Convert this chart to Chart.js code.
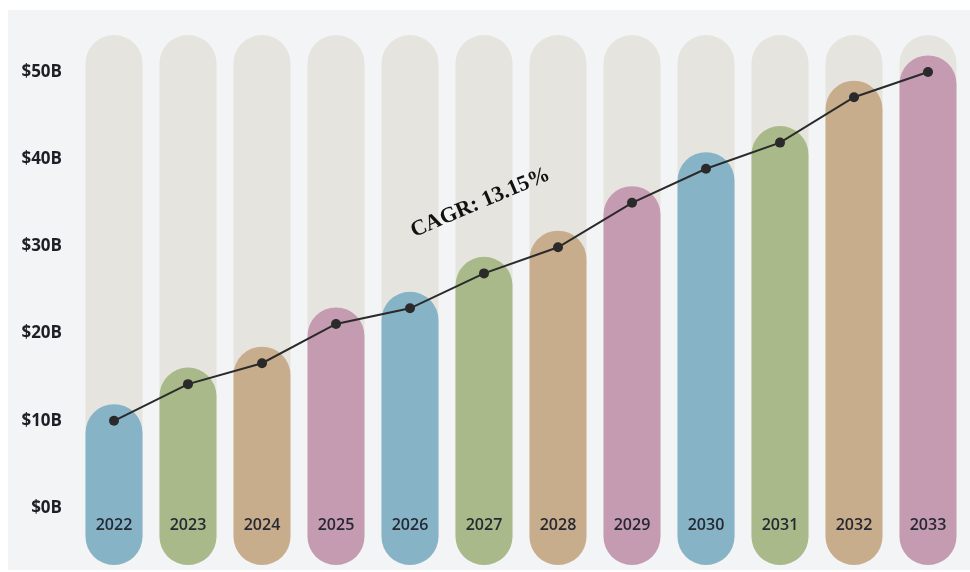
<!DOCTYPE html>
<html>
<head>
<meta charset="utf-8">
<script src="https://cdn.jsdelivr.net/npm/chart.js@4/dist/chart.umd.min.js"></script>
<style>
  html, body { margin: 0; padding: 0; background: #ffffff; }
  #wrap { width: 970px; height: 572px; }
</style>
</head>
<body>
<div id="wrap"><canvas id="myChart" width="970" height="572"></canvas></div>
<script>
const years = ["2022", "2023", "2024", "2025", "2026", "2027", "2028", "2029", "2030", "2031", "2032", "2033"];
const marketSize = [10.0, 14.2, 16.6, 21.1, 22.9, 26.9, 29.9, 35.0, 38.9, 41.9, 47.1, 50.0];
const yTicks = [0, 10, 20, 30, 40, 50];
const barColors = ["#86b4c6", "#a9b98a", "#c8ad8c", "#c49bb0", "#86b4c6", "#a9b98a", "#c8ad8c", "#c49bb0", "#86b4c6", "#a9b98a", "#c8ad8c", "#c49bb0"];
const cagrLabel = "CAGR: 13.15%";

// pill geometry (axis units)
const yMin = -6.54;
const yMax = 54.24;
const capPad = 1.9;

const bgPlugin = {
    id: "bg",
    beforeDraw(chart) {
        const c = chart.ctx;
        c.save();
        c.fillStyle = "#f3f4f6";
        c.fillRect(8, 10, chart.width - 8, chart.height - 12);
        c.restore();
    },
};

const labelsPlugin = {
    id: "yearLabels",
    afterDatasetsDraw(chart) {
        const c = chart.ctx;
        const xs = chart.scales.x;
        const ys = chart.scales.y;
        c.save();
        c.font = "600 16px 'Open Sans'";
        c.fillStyle = "#262833";
        c.textAlign = "center";
        c.textBaseline = "middle";
        years.forEach((y, i) => {
            c.fillText(y, xs.getPixelForValue(i), ys.getPixelForValue(-2.0));
        });
        // CAGR annotation
        c.translate(xs.getPixelForValue(4.95), ys.getPixelForValue(35.0));
        c.rotate(-23 * Math.PI / 180);
        c.font = "bold 22px 'Liberation Serif'";
        c.fillStyle = "#111111";
        c.fillText(cagrLabel, 0, 0);
        c.restore();
    },
};

const ctx = document.getElementById("myChart").getContext("2d");
const myChart = new Chart(ctx, {
    data: {
        labels: years,
        datasets: [
            {
                type: "line",
                data: marketSize,
                borderColor: "#2a2a2a",
                borderWidth: 2,
                pointRadius: 5,
                pointBackgroundColor: "#2a2a2a",
                pointBorderWidth: 0,
                tension: 0,
                order: 0,
            },
            {
                type: "bar",
                data: marketSize.map(v => [yMin, v + capPad]),
                backgroundColor: barColors,
                borderRadius: 40,
                borderSkipped: false,
                grouped: false,
                barPercentage: 0.77,
                categoryPercentage: 1,
                order: 1,
            },
            {
                type: "bar",
                data: years.map(() => [yMin, yMax]),
                backgroundColor: "#e6e4df",
                borderRadius: 40,
                borderSkipped: false,
                grouped: false,
                barPercentage: 0.77,
                categoryPercentage: 1,
                order: 2,
            },
        ],
    },
    options: {
        responsive: false,
        animation: false,
        events: [],
        plugins: {
            legend: { display: false },
            tooltip: { enabled: false },
        },
        layout: {
            padding: { top: 35, right: 0, bottom: 7, left: 0 },
        },
        scales: {
            x: {
                display: false,
                offset: true,
            },
            y: {
                min: yMin,
                max: yMax,
                afterBuildTicks(axis) {
                    axis.ticks = yTicks.map(v => ({ value: v }));
                },
                afterFit(axis) {
                    axis.width = 77;
                    axis.paddingTop = 0;
                    axis.paddingBottom = 0;
                },
                grid: { display: false },
                border: { display: false },
                ticks: {
                    padding: 7,
                    color: "#1e1f26",
                    font: { family: "'Open Sans'", size: 17, weight: "bold" },
                    callback: v => "$" + v + "B",
                },
            },
        },
    },
    plugins: [bgPlugin, labelsPlugin],
});
</script>
</body>
</html>
